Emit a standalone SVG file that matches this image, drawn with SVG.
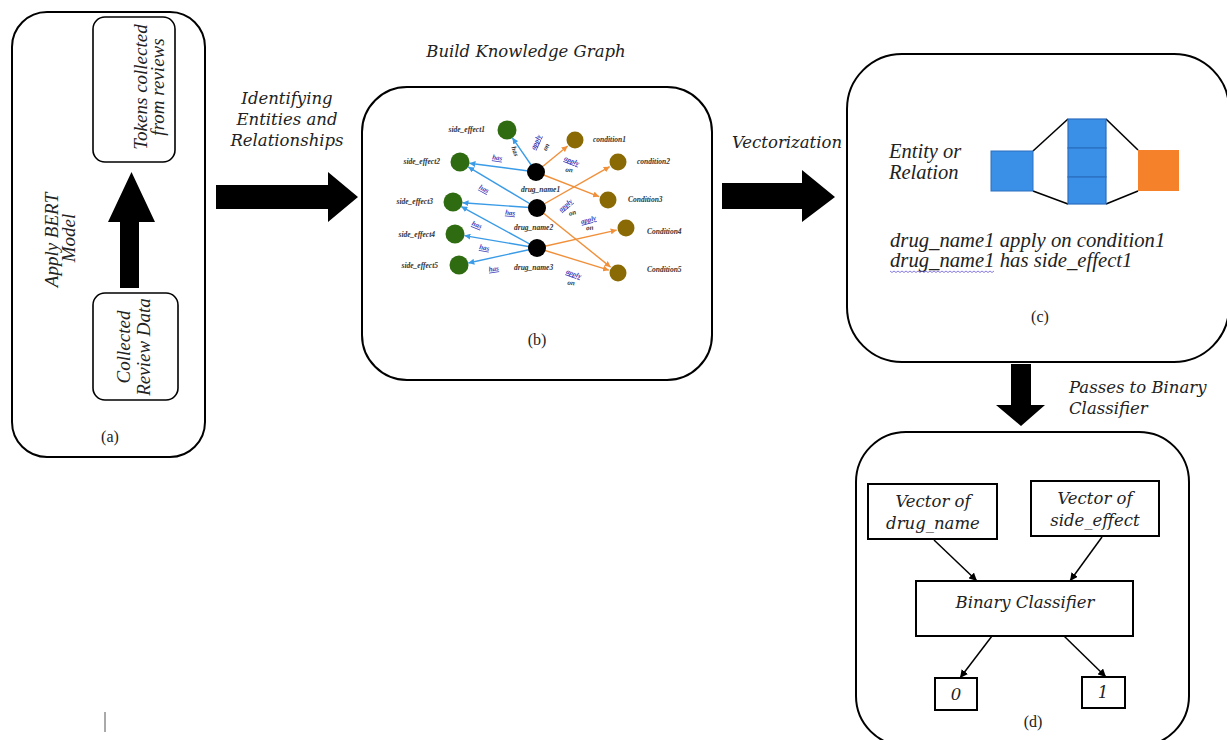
<svg xmlns="http://www.w3.org/2000/svg" width="1227" height="740" viewBox="0 0 1227 740">
<style>
.frame{fill:#fff;stroke:#000;stroke-width:2}
.ibox{fill:#fff;stroke:#000;stroke-width:1.6}
.sbox{fill:#fff;stroke:#000;stroke-width:2}
.tt{font-family:"Liberation Serif",serif;font-style:italic;fill:#222}
.lab{font-family:"DejaVu Serif",serif;font-style:italic;fill:#222;font-size:16.5px}
.cap{font-family:"Liberation Serif",serif;font-size:16px;fill:#222}
.gl{font-family:"Liberation Serif",serif;font-style:italic;font-weight:bold;font-size:7.5px;fill:#333}
.el{font-family:"Liberation Serif",serif;font-style:italic;font-weight:bold;font-size:7px;fill:#3a3ab8;text-decoration:underline}
.eo{font-family:"Liberation Serif",serif;font-style:italic;font-weight:bold;font-size:7px;fill:#333}
.be{stroke:#3a9be6;stroke-width:1.4;fill:none}
.oe{stroke:#f0903a;stroke-width:1.4;fill:none}
.se{fill:#2f6b10}
.cn{fill:#8a6a05}
.dn{fill:#000}
.blk{fill:#000}
.ka{stroke:#000;stroke-width:1.5;fill:none}
</style>
<defs>
<marker id="mb" viewBox="0 0 10 10" refX="10" refY="5" markerWidth="6" markerHeight="6" markerUnits="userSpaceOnUse" orient="auto"><path d="M0,0L10,5L0,10z" fill="#3a9be6"/></marker>
<marker id="mo" viewBox="0 0 10 10" refX="10" refY="5" markerWidth="6" markerHeight="6" markerUnits="userSpaceOnUse" orient="auto"><path d="M0,0L10,5L0,10z" fill="#f0903a"/></marker>
<marker id="mk" viewBox="0 0 10 10" refX="10" refY="5" markerWidth="8" markerHeight="8" markerUnits="userSpaceOnUse" orient="auto"><path d="M0,0L10,5L0,10z" fill="#000"/></marker>
</defs>
<rect width="1227" height="740" fill="#fff"/>

<!-- (a) -->
<g id="panel-a">
<rect class="frame" x="12" y="12" width="193" height="445" rx="35"/>
<text class="tt" font-size="19" text-anchor="middle" transform="translate(58,240) rotate(-90)">Apply BERT</text>
<text class="tt" font-size="19" text-anchor="middle" transform="translate(75,238) rotate(-90)">Model</text>
<text class="cap" x="110" y="442" text-anchor="middle">(a)</text>
</g>
<g id="tokens">
<rect class="ibox" x="93" y="17" width="82" height="145" rx="12"/>
<text class="tt" font-size="19" text-anchor="middle" transform="translate(147,87) rotate(-90)">Tokens collected</text>
<text class="tt" font-size="19" text-anchor="middle" transform="translate(164,87) rotate(-90)">from reviews</text>
</g>
<g id="collected">
<rect class="ibox" x="93" y="293" width="85" height="107" rx="12"/>
<text class="tt" font-size="19" text-anchor="middle" transform="translate(130,347) rotate(-90)">Collected</text>
<text class="tt" font-size="19" text-anchor="middle" transform="translate(150,347) rotate(-90)">Review Data</text>
</g>

<!-- (b) -->
<g id="panel-b">
<rect class="frame" x="362" y="87" width="350" height="293" rx="45"/>
<text class="cap" x="537" y="345" text-anchor="middle">(b)</text>
</g>

<!-- (c) -->
<g id="panel-c">
<rect class="frame" x="847" y="54" width="382" height="308" rx="55"/>
<text class="tt" font-size="20.5" x="889" y="158">Entity or</text>
<text class="tt" font-size="20.5" x="889" y="179">Relation</text>
<g stroke="#000" stroke-width="1.6">
<line x1="1033" y1="151" x2="1068" y2="119"/>
<line x1="1033" y1="191" x2="1068" y2="204"/>
<line x1="1106" y1="119" x2="1138" y2="150"/>
<line x1="1106" y1="204" x2="1138" y2="191"/>
</g>
<rect x="991" y="151" width="42" height="40" fill="#3a8fe6" stroke="#2a6fc0" stroke-width="1"/>
<rect x="1068" y="119" width="38" height="29" fill="#3a8fe6" stroke="#2a6fc0" stroke-width="1.2"/>
<rect x="1068" y="148" width="38" height="29" fill="#3a8fe6" stroke="#2a6fc0" stroke-width="1.2"/>
<rect x="1068" y="177" width="38" height="27" fill="#3a8fe6" stroke="#2a6fc0" stroke-width="1.2"/>
<rect x="1138" y="150" width="41" height="41" fill="#f5822a"/>
<text class="tt" font-size="20.7" x="890" y="247">drug_name1 apply on condition1</text>
<text class="tt" font-size="20.7" x="890" y="267">drug_name1 has side_effect1</text>
<path d="M890,271 l2,1.5 l2,-1.5 l2,1.5 l2,-1.5 l2,1.5 l2,-1.5 l2,1.5 l2,-1.5 l2,1.5 l2,-1.5 l2,1.5 l2,-1.5 l2,1.5 l2,-1.5 l2,1.5 l2,-1.5 l2,1.5 l2,-1.5 l2,1.5 l2,-1.5 l2,1.5 l2,-1.5 l2,1.5 l2,-1.5 l2,1.5 l2,-1.5 l2,1.5 l2,-1.5 l2,1.5 l2,-1.5 l2,1.5 l2,-1.5 l2,1.5 l2,-1.5 l2,1.5 l2,-1.5 l2,1.5 l2,-1.5 l2,1.5 l2,-1.5 l2,1.5 l2,-1.5 l2,1.5 l2,-1.5 l2,1.5 l2,-1.5 l2,1.5 l2,-1.5 l2,1.5 l2,-1.5 l2,1.5 l2,-1.5" fill="none" stroke="#6a5ad8" stroke-width="0.8"/>
<text class="cap" x="1040" y="322" text-anchor="middle">(c)</text>
</g>

<!-- (d) -->
<g id="panel-d">
<rect class="frame" x="856" y="432" width="333" height="314" rx="50"/>
<text class="cap" x="1033" y="727" text-anchor="middle">(d)</text>
</g>
<g id="vec-drug">
<rect class="sbox" x="868" y="484" width="129" height="55"/>
<text class="lab" x="933" y="507" text-anchor="middle">Vector of</text>
<text class="lab" x="933" y="529" text-anchor="middle">drug_name</text>
</g>
<g id="vec-side">
<rect class="sbox" x="1031" y="481" width="128" height="55"/>
<text class="lab" x="1095" y="504" text-anchor="middle">Vector of</text>
<text class="lab" x="1095" y="526" text-anchor="middle">side_effect</text>
</g>
<g id="binary">
<rect class="sbox" x="916" y="581" width="217" height="55"/>
<text class="lab" x="1025" y="608" text-anchor="middle">Binary Classifier</text>
</g>
<g id="out0">
<rect class="sbox" x="935" y="678" width="42" height="32"/>
<text class="lab" x="956" y="700" text-anchor="middle">0</text>
</g>
<g id="out1">
<rect class="sbox" x="1082" y="677" width="43" height="31"/>
<text class="lab" x="1103" y="698" text-anchor="middle">1</text>
</g>

<!-- knowledge graph -->
<g id="kg-edges">
<line class="be" x1="536" y1="172" x2="512.4" y2="137.8" marker-end="url(#mb)"/>
<line class="be" x1="536" y1="172" x2="469.4" y2="163.2" marker-end="url(#mb)"/>
<line class="be" x1="537" y1="208" x2="468.2" y2="166.9" marker-end="url(#mb)"/>
<line class="be" x1="537" y1="208" x2="462.5" y2="202.7" marker-end="url(#mb)"/>
<line class="be" x1="537" y1="248" x2="461.3" y2="206.6" marker-end="url(#mb)"/>
<line class="be" x1="537" y1="248" x2="464.4" y2="235.6" marker-end="url(#mb)"/>
<line class="be" x1="537" y1="248" x2="468.3" y2="263.0" marker-end="url(#mb)"/>
<line class="oe" x1="536" y1="172" x2="567.7" y2="146.0" marker-end="url(#mo)"/>
<line class="oe" x1="536" y1="172" x2="599.1" y2="196.6" marker-end="url(#mo)"/>
<line class="oe" x1="537" y1="208" x2="609.7" y2="166.7" marker-end="url(#mo)"/>
<line class="oe" x1="537" y1="208" x2="610.6" y2="267.1" marker-end="url(#mo)"/>
<line class="oe" x1="537" y1="248" x2="616.7" y2="230.1" marker-end="url(#mo)"/>
<line class="oe" x1="537" y1="248" x2="608.9" y2="270.2" marker-end="url(#mo)"/>
</g>
<g id="kg-edge-labels">
<text class="eo" text-anchor="middle" transform="translate(513,152) rotate(70)">has</text>
<text class="el" text-anchor="middle" transform="translate(497,160) rotate(8)">has</text>
<text class="el" text-anchor="middle" transform="translate(483,191) rotate(28)">has</text>
<text class="el" text-anchor="middle" transform="translate(510,215) rotate(5)">has</text>
<text class="el" text-anchor="middle" transform="translate(476,227) rotate(22)">has</text>
<text class="el" text-anchor="middle" transform="translate(484,250) rotate(10)">has</text>
<text class="el" text-anchor="middle" transform="translate(494,271) rotate(-8)">has</text>
<text class="el" text-anchor="middle" transform="translate(538,143) rotate(-65)">apply</text>
<text class="eo" text-anchor="middle" transform="translate(548,148) rotate(-65)">on</text>
<text class="el" text-anchor="middle" transform="translate(571,163) rotate(22)">apply</text>
<text class="eo" text-anchor="middle" transform="translate(569,172) rotate(5)">on</text>
<text class="el" text-anchor="middle" transform="translate(567,207) rotate(-40)">apply</text>
<text class="eo" text-anchor="middle" transform="translate(573,215) rotate(-15)">on</text>
<text class="el" text-anchor="middle" transform="translate(589,222) rotate(-15)">apply</text>
<text class="eo" text-anchor="middle" transform="translate(590,230) rotate(-5)">on</text>
<text class="el" text-anchor="middle" transform="translate(573,276) rotate(20)">apply</text>
<text class="eo" text-anchor="middle" transform="translate(571,285) rotate(5)">on</text>
</g>
<g id="kg-nodes">
<g id="side_effect1"><circle class="se" cx="507" cy="130" r="9.5"/><text class="gl" x="485" y="132" text-anchor="end">side_effect1</text></g>
<g id="side_effect2"><circle class="se" cx="460" cy="162" r="9.5"/><text class="gl" x="440" y="164" text-anchor="end">side_effect2</text></g>
<g id="side_effect3"><circle class="se" cx="453" cy="202" r="9.5"/><text class="gl" x="433" y="204" text-anchor="end">side_effect3</text></g>
<g id="side_effect4"><circle class="se" cx="455" cy="234" r="9.5"/><text class="gl" x="435" y="237" text-anchor="end">side_effect4</text></g>
<g id="side_effect5"><circle class="se" cx="459" cy="265" r="9.5"/><text class="gl" x="438" y="268" text-anchor="end">side_effect5</text></g>
<g id="drug_name1"><circle class="dn" cx="536" cy="172" r="9"/><text class="gl" x="521" y="192">drug_name1</text></g>
<g id="drug_name2"><circle class="dn" cx="537" cy="208" r="9"/><text class="gl" x="514" y="230">drug_name2</text></g>
<g id="drug_name3"><circle class="dn" cx="537" cy="248" r="9"/><text class="gl" x="514" y="270">drug_name3</text></g>
<g id="condition1"><circle class="cn" cx="575" cy="140" r="8.5"/><text class="gl" x="593" y="142">condition1</text></g>
<g id="condition2"><circle class="cn" cx="618" cy="162" r="8.5"/><text class="gl" x="637" y="164">condition2</text></g>
<g id="condition3"><circle class="cn" cx="608" cy="200" r="8.5"/><text class="gl" x="628" y="202">Condition3</text></g>
<g id="condition4"><circle class="cn" cx="626" cy="228" r="8.5"/><text class="gl" x="647" y="234">Condition4</text></g>
<g id="condition5"><circle class="cn" cx="618" cy="273" r="8.5"/><text class="gl" x="647" y="272">Condition5</text></g>
</g>

<!-- connectors -->
<g id="connectors">
<polygon class="blk" points="120,288 139,288 139,222 155,222 131.5,172 108,222 120,222"/>
<polygon class="blk" points="216,185 328,185 328,172 358,197 328,222 328,209 216,209"/>
<polygon class="blk" points="722,183 802,183 802,170 835,197 802,222 802,209 722,209"/>
<polygon class="blk" points="1011,364 1031,364 1031,405 1045,405 1021,426 996,405 1011,405"/>
<line class="ka" x1="934" y1="540" x2="977" y2="581" marker-end="url(#mk)"/>
<line class="ka" x1="1102" y1="537" x2="1070" y2="581" marker-end="url(#mk)"/>
<line class="ka" x1="992" y1="636" x2="960" y2="678" marker-end="url(#mk)"/>
<line class="ka" x1="1064" y1="636" x2="1106" y2="677" marker-end="url(#mk)"/>
</g>

<!-- connector labels -->
<g id="labels">
<text class="lab" x="287" y="104" text-anchor="middle">Identifying</text>
<text class="lab" x="287" y="125" text-anchor="middle">Entities and</text>
<text class="lab" x="287" y="146" text-anchor="middle">Relationships</text>
<text class="lab" x="526" y="57" text-anchor="middle">Build Knowledge Graph</text>
<text class="lab" x="787" y="148" text-anchor="middle">Vectorization</text>
<text class="lab" x="1069" y="393">Passes to Binary</text>
<text class="lab" x="1069" y="414">Classifier</text>
</g>
<line x1="105" y1="712" x2="105" y2="732" stroke="#555" stroke-width="1"/>
</svg>
